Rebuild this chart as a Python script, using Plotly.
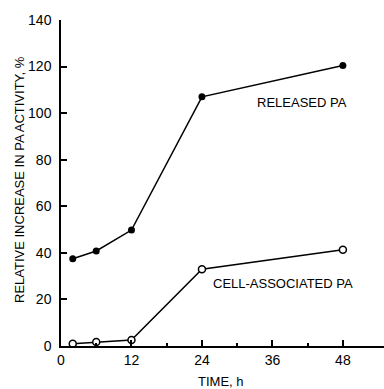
import plotly.graph_objects as go

time_h = [2, 6, 12, 24, 48]
released_pa = [37.5, 40.8, 49.8, 107, 120.5]
cell_associated_pa = [1.0, 1.7, 2.6, 33, 41.3]

x_ticks = [0, 12, 24, 36, 48]
x_minor_ticks = [6, 18, 30, 42]
y_ticks = [0, 20, 40, 60, 80, 100, 120, 140]

FONT = "Liberation Sans"
W, H = 384, 389
L, R, T, B = 61, 0, 20, 43

fig = go.Figure()
fig.add_trace(go.Scatter(
    x=time_h, y=released_pa, mode="lines+markers",
    line=dict(color="black", width=1.5),
    marker=dict(symbol="circle", size=7, color="black"),
    cliponaxis=False, showlegend=False))
fig.add_trace(go.Scatter(
    x=time_h, y=cell_associated_pa, mode="lines+markers",
    line=dict(color="black", width=1.5),
    marker=dict(symbol="circle", size=7, color="white",
                line=dict(color="black", width=1.5)),
    cliponaxis=False, showlegend=False))

def px_x(px):
    return (px - L) / (W - L - R)
def px_y(py):
    return (H - B - py) / (H - B - T)

def label(x, y, text, angle=0):
    fig.add_annotation(x=px_x(x), y=px_y(y), xref="paper", yref="paper",
                       text=text, showarrow=False, textangle=angle,
                       xanchor="center", yanchor="middle",
                       font=dict(family=FONT, size=13, color="black"))

label(302, 102, "RELEASED PA")
label(283, 283, "CELL-ASSOCIATED PA")
label(221, 381, "TIME, h")
label(19, 180, "RELATIVE INCREASE IN PA ACTIVITY, %", angle=-90)

fig.update_layout(
    width=W, height=H,
    margin=dict(l=L, r=R, t=T, b=B, autoexpand=False),
    paper_bgcolor="white", plot_bgcolor="white",
    font=dict(family=FONT, size=14, color="black"),
    xaxis=dict(range=[0, 55], tickvals=x_ticks, ticks="inside", ticklen=6,
               tickwidth=1.5, tickcolor="black", showline=True, linecolor="black",
               linewidth=1.5, showgrid=False, zeroline=False, automargin=False,
               ticklabelstandoff=0,
               minor=dict(tickvals=x_minor_ticks, ticks="inside", ticklen=3,
                          tickwidth=1.5, tickcolor="black", showgrid=False),
               tickfont=dict(size=14)),
    yaxis=dict(range=[0, 140], tickvals=y_ticks, ticks="inside", ticklen=6,
               tickwidth=1.5, tickcolor="black", showline=True, linecolor="black",
               linewidth=1.5, showgrid=False, zeroline=False, automargin=False,
               ticklabelstandoff=5,
               tickfont=dict(size=14)),
)

fig.write_html("out.html", config={"displayModeBar": False},
               post_script="document.body.style.margin='0';document.body.style.overflow='hidden';")
